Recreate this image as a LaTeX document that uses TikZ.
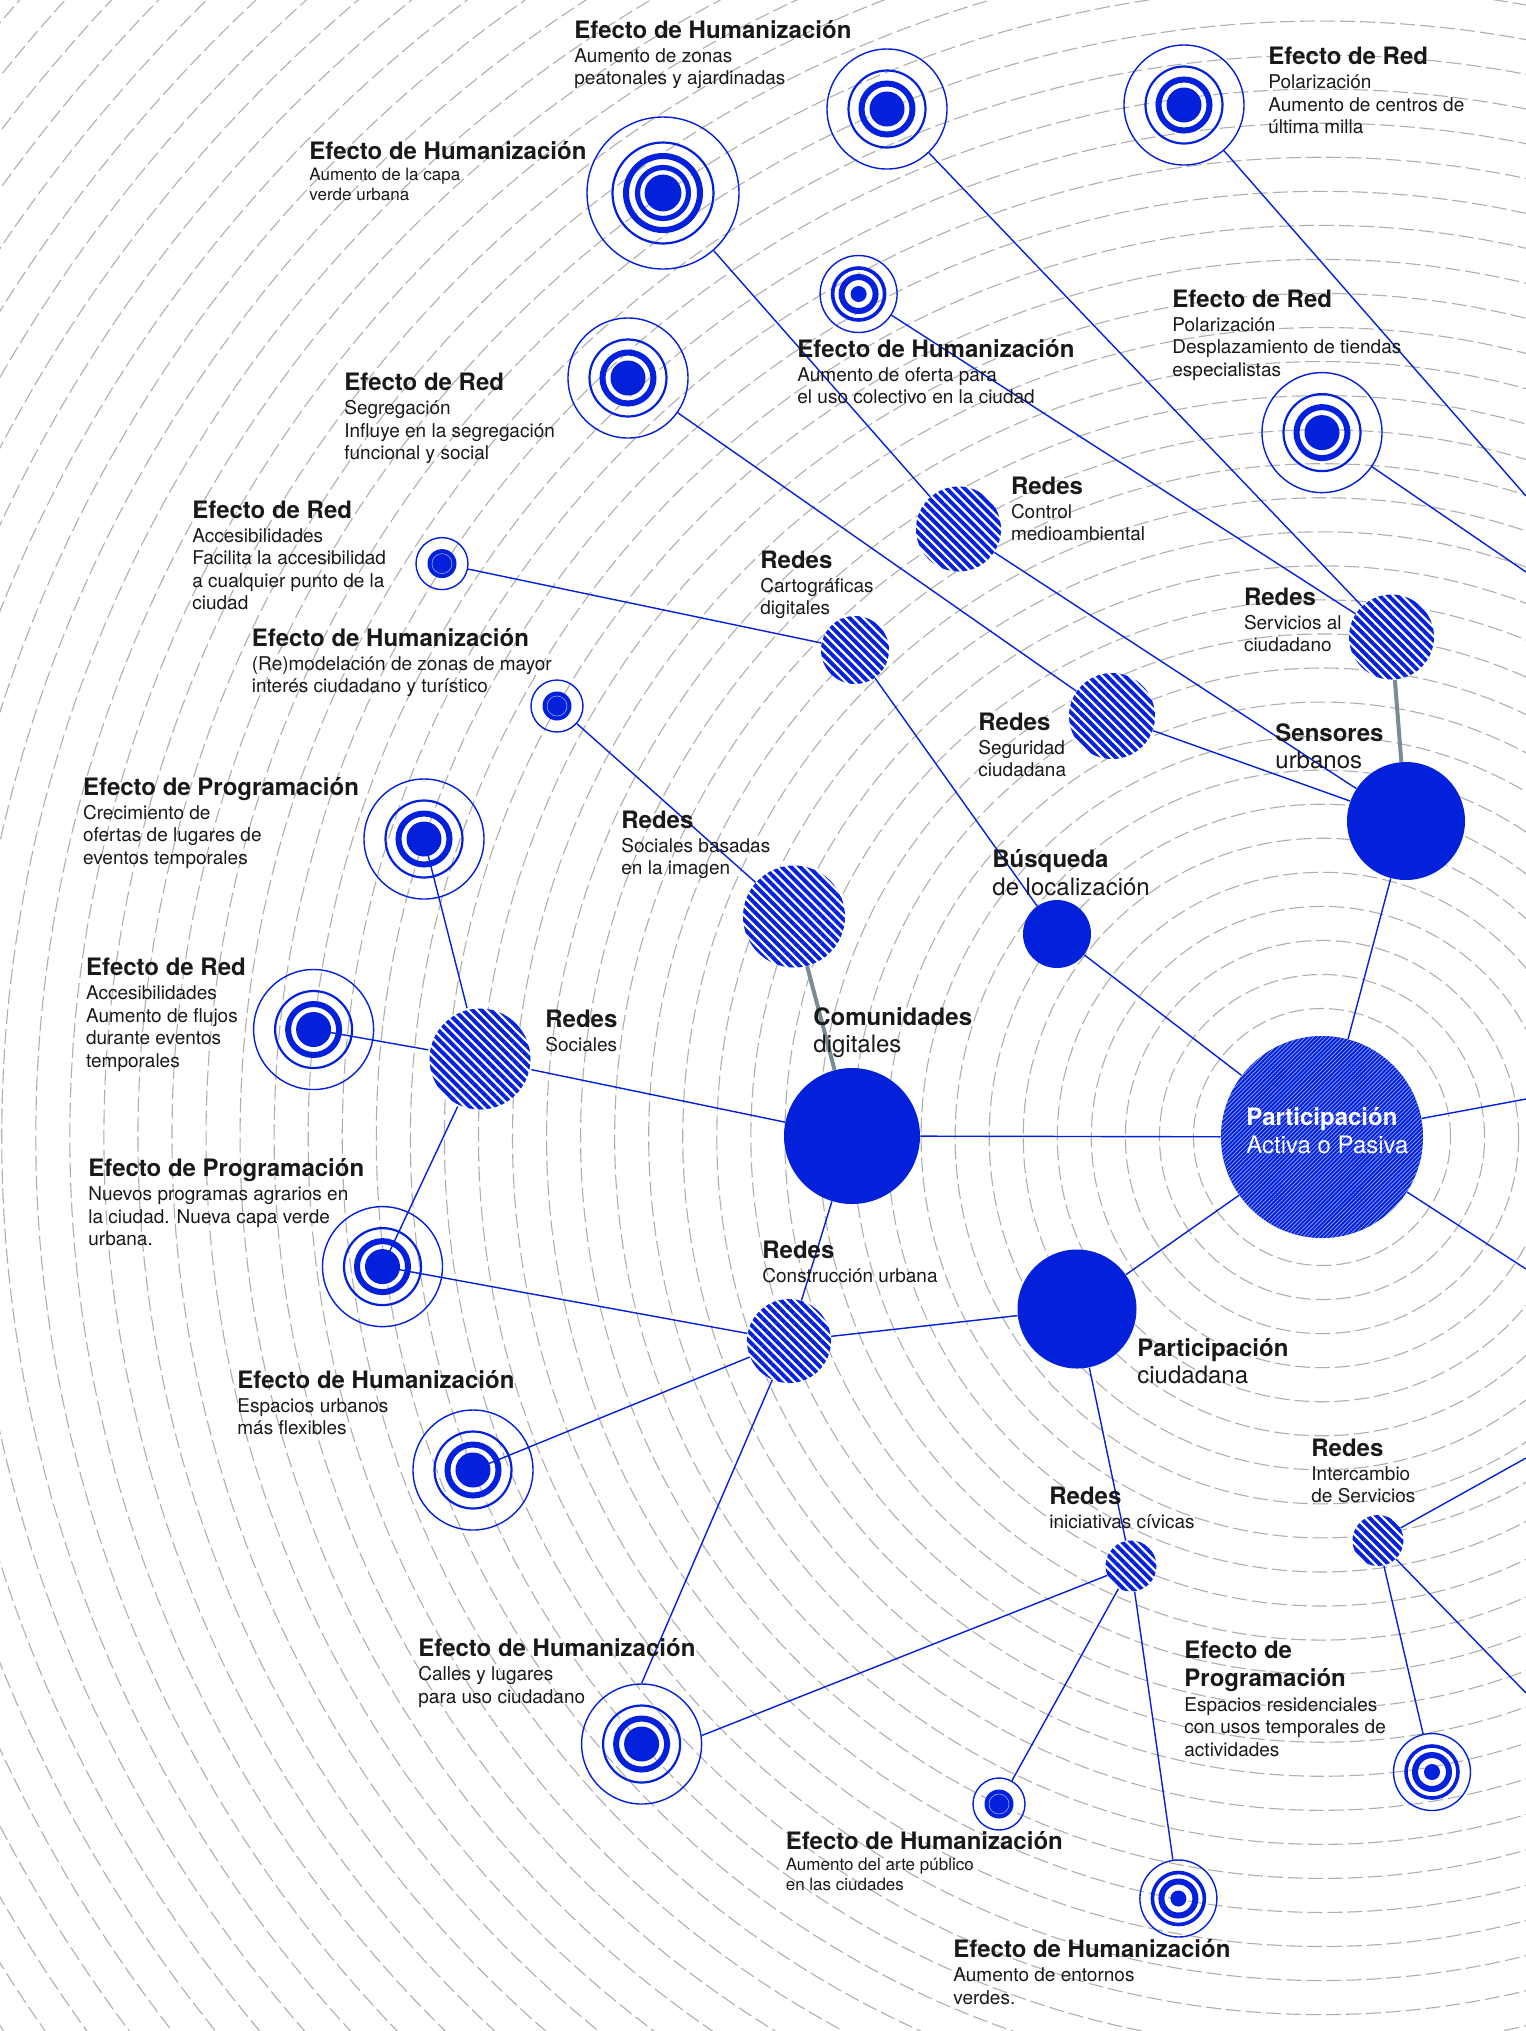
\documentclass[tikz,border=0pt]{standalone}
\usepackage{fontspec}
\setmainfont{TeX Gyre Heros}
\usepackage{tikz}
\usetikzlibrary{patterns.meta}
\usepackage{xcolor}

\definecolor{nblue}{RGB}{3,32,218}
\definecolor{lightb}{RGB}{150,170,245}
\definecolor{ringgray}{RGB}{175,175,175}
\definecolor{gconn}{RGB}{120,140,148}
\definecolor{txt}{RGB}{25,25,25}

\pgfdeclarelayer{bg}
\pgfsetlayers{bg,main}

% labels are placed by the baseline of their last line
\tikzset{
  tgtring/.style={circle, draw=nblue, line width=0.7pt, inner sep=0pt},
  lbl/.style={anchor=base west, align=left, inner sep=0pt, text=txt, font=\fontsize{9.5}{11.25}\selectfont},
  lblsm/.style={lbl, font=\fontsize{8.5}{10}\selectfont},
  lblbig/.style={lbl, font=\fontsize{12}{13.75}\selectfont}
}

\newcommand{\hd}[1]{{\fontsize{12}{13.75}\selectfont\bfseries #1}}

% targets (outer ring = named node)
\newcommand{\tgtstd}[2]{%
  \node[tgtring, minimum size=60pt] (#1) at (#2) {};
  \draw[nblue, line width=1.1pt] (#1.center) circle[radius=19.25pt];
  \draw[nblue, line width=3pt] (#1.center) circle[radius=12.75pt];
  \fill[nblue] (#1.center) circle[radius=8.75pt];}
\newcommand{\tgtbig}[2]{%
  \node[tgtring, minimum size=76pt] (#1) at (#2) {};
  \draw[nblue, line width=1.1pt] (#1.center) circle[radius=25.25pt];
  \draw[nblue, line width=3pt] (#1.center) circle[radius=18.5pt];
  \draw[nblue, line width=2.6pt] (#1.center) circle[radius=12.75pt];
  \fill[nblue] (#1.center) circle[radius=9.2pt];}
\newcommand{\tgtmed}[2]{%
  \node[tgtring, minimum size=38.5pt] (#1) at (#2) {};
  \draw[nblue, line width=1.8pt] (#1.center) circle[radius=13pt];
  \draw[nblue, line width=3pt] (#1.center) circle[radius=8.5pt];
  \fill[nblue] (#1.center) circle[radius=4pt];}
\newcommand{\tgtsml}[2]{%
  \node[tgtring, minimum size=26pt] (#1) at (#2) {};
  \fill[nblue] (#1.center) circle[radius=7.25pt];
  \draw[white, opacity=.6, line width=0.3pt] (#1.center) circle[radius=5pt];}

\begin{document}
\begin{tikzpicture}[x=0.5pt, y=-0.5pt,
  orbit/.style={draw=ringgray, line width=0.55pt, dash pattern=on 7.5pt off 2.5pt},
  link/.style={draw=nblue, line width=0.7pt},
  glink/.style={draw=gconn, line width=2pt},
  fullnode/.style={circle, inner sep=0pt, fill=nblue},
  hatchnode/.style={circle, inner sep=0pt, preaction={fill=white},
    pattern={Lines[angle=-45,distance=3.2pt,line width=1.95pt]}, pattern color=nblue},
  cennode/.style={circle, inner sep=0pt, fill=nblue,
    postaction={pattern={Lines[angle=45,distance=1.45pt,line width=0.35pt]}, pattern color=lightb}}]
\useasboundingbox (0,0) rectangle (1526,2031);

% Dashed orbits around the centre
\begin{pgfonlayer}{bg}
\begin{scope}
\clip (0,0) rectangle (1526,2031);
\fill[white] (0,0) rectangle (1526,2031);
\foreach \k in {0,...,48}
  \draw[orbit] (1322,1137) circle[radius={64.25pt+17.025pt*\k}];
\end{scope}
\end{pgfonlayer}

% Centre and solid nodes
\node[cennode, minimum size=101pt] (cen) at (1322,1137) {};
\node[fullnode, minimum size=68pt] (com) at (852,1136) {};
\node[fullnode, minimum size=59pt] (sen) at (1406,821) {};
\node[fullnode, minimum size=34pt] (bus) at (1057,934) {};
\node[fullnode, minimum size=59.5pt] (pci) at (1077,1309) {};

% Redes (hatched)
\node[hatchnode, minimum size=50.5pt] (r5) at (480,1059) {};
\node[hatchnode, minimum size=51pt] (r6) at (794,916.5) {};
\node[hatchnode, minimum size=34pt] (r7) at (855,650) {};
\node[hatchnode, minimum size=42.5pt] (r8) at (958.5,529) {};
\node[hatchnode, minimum size=43pt] (r9) at (1112,716) {};
\node[hatchnode, minimum size=42.5pt] (r10) at (1391.5,637) {};
\node[hatchnode, minimum size=42pt] (r11) at (789,1341) {};
\node[hatchnode, minimum size=25.5pt] (r12) at (1131,1566) {};
\node[hatchnode, minimum size=25.5pt] (r13) at (1378,1540.5) {};

% Efectos (targets)
\tgtstd{t1}{887,109}
\tgtstd{t2}{1184,105}
\tgtbig{t3}{663,193}
\tgtmed{t4}{858.6,294}
\tgtstd{t5}{1322,432.6}
\tgtstd{t6}{628,378}
\tgtsml{t7}{442,563.6}
\tgtsml{t8}{557,706}
\tgtstd{t9}{424,839}
\tgtstd{t10}{313.6,1029.5}
\tgtstd{t11}{382.5,1266.6}
\tgtstd{t12}{473,1470}
\tgtstd{t13}{641.6,1744}
\tgtsml{t14}{999,1804}
\tgtmed{t15}{1178.4,1898.5}
\tgtmed{t16}{1432,1772}

% Loose ends at the right border
\coordinate (e1) at (1526,496);
\coordinate (e2) at (1526,572);
\coordinate (e3) at (1526,1099);
\coordinate (e4) at (1526,1269);
\coordinate (e5) at (1526,1458);
\coordinate (e6) at (1526,1693);

% Connectors
\begin{pgfonlayer}{bg}
\draw[link] (t1) -- (r10);
\draw[link] (t2) -- (e1);
\draw[link] (t3) -- (r8);
\draw[link] (t4) -- (r10);
\draw[link] (t5) -- (e2);
\draw[link] (r8) -- (sen);
\draw[link] (t6) -- (r9);
\draw[link] (r9) -- (sen);
\draw[link] (t7) -- (r7);
\draw[link] (r7) -- (bus);
\draw[link] (t8) -- (r6);
\draw[glink] (r6) -- (com);
\draw[glink] (r10) -- (sen);
\draw[link] (bus) -- (cen);
\draw[link] (sen) -- (cen);
\draw[link] (t9.center) -- (r5);
\draw[link] (t10.center) -- (r5);
\draw[link] (r5) -- (com);
\draw[link] (r5) -- (t11.center);
\draw[link] (t11.center) -- (r11);
\draw[link] (t12.center) -- (r11);
\draw[link] (t13.north) -- (r11);
\draw[link] (r11) -- (com);
\draw[link] (r11) -- (pci);
\draw[link] (com) -- (cen);
\draw[link] (pci) -- (cen);
\draw[link] (pci) -- (r12);
\draw[link] (r12) -- (t13.8);
\draw[link] (r12) -- (t14);
\draw[link] (r12) -- (t15);
\draw[link] (r13) -- (e5);
\draw[link] (r13) -- (t16);
\draw[link] (r13) -- (e6);
\draw[link] (cen) -- (e3);
\draw[link] (cen) -- (e4);
\end{pgfonlayer}

% Labels of the nodes
\node[lblbig, text=white] (lcen) at (1246,1153) {\hd{Participación}\\Activa o Pasiva};
\node[lblbig] (lcom) at (813,1052.5) {\hd{Comunidades}\\digitales};
\node[lblbig] (lsen) at (1275,768.5) {\hd{Sensores}\\urbanos};
\node[lblbig] (lbus) at (992,895) {\hd{Búsqueda}\\de localización};
\node[lblbig] (lpci) at (1137,1383.5) {\hd{Participación}\\ciudadana};
\node[lbl] (lr5) at (545,1051) {\hd{Redes}\\[0.75pt]Sociales};
\node[lbl] (lr6) at (621,874.5) {\hd{Redes}\\[0.75pt]Sociales basadas\\en la imagen};
\node[lbl] (lr7) at (760,614.5) {\hd{Redes}\\[0.75pt]Cartográficas\\digitales};
\node[lbl] (lr8) at (1010.6,540.5) {\hd{Redes}\\[0.75pt]Control\\medioambiental};
\node[lbl] (lr9) at (978,776.5) {\hd{Redes}\\[0.75pt]Seguridad\\ciudadana};
\node[lbl] (lr10) at (1243.6,651.5) {\hd{Redes}\\[0.75pt]Servicios al\\ciudadano};
\node[lbl] (lr11) at (762,1282) {\hd{Redes}\\[0.75pt]Construcción urbana};
\node[lbl] (lr12) at (1049,1528.6) {\hd{Redes}\\[0.75pt]iniciativas cívicas};
\node[lbl] (lr13) at (1311,1502.5) {\hd{Redes}\\[0.75pt]Intercambio\\de Servicios};

% Labels of the effects
\node[lbl] (lt1) at (574,84.5) {\hd{Efecto de Humanización}\\[0.75pt]Aumento de zonas\\peatonales y ajardinadas};
\node[lbl] (lt2) at (1268,133.7) {\hd{Efecto de Red}\\[0.75pt]Polarización\\Aumento de centros de\\última milla};
\node[lblsm] (lt3) at (309,200.8) {\hd{Efecto de Humanización}\\[0.7pt]Aumento de la capa\\verde urbana};
\node[lbl] (lt4) at (797,403.5) {\hd{Efecto de Humanización}\\[0.75pt]Aumento de oferta para\\el uso colectivo en la ciudad};
\node[lbl] (lt5) at (1172,376) {\hd{Efecto de Red}\\[0.75pt]Polarización\\Desplazamiento de tiendas\\especialistas};
\node[lbl] (lt6) at (344,459.6) {\hd{Efecto de Red}\\[0.75pt]Segregación\\Influye en la segregación\\funcional y social};
\node[lbl] (lt7) at (192,609.5) {\hd{Efecto de Red}\\[0.75pt]Accesibilidades\\Facilita la accesibilidad\\a cualquier punto de la\\ciudad};
\node[lbl] (lt8) at (251.5,692.5) {\hd{Efecto de Humanización}\\[0.75pt](Re)modelación de zonas de mayor\\interés ciudadano y turístico};
\node[lbl] (lt9) at (82.7,864) {\hd{Efecto de Programación}\\[0.75pt]Crecimiento de\\ofertas de lugares de\\eventos temporales};
\node[lbl] (lt10) at (85.7,1067) {\hd{Efecto de Red}\\[0.75pt]Accesibilidades\\Aumento de flujos\\durante eventos\\temporales};
\node[lbl] (lt11) at (88,1245.6) {\hd{Efecto de Programación}\\[0.75pt]Nuevos programas agrarios en\\la ciudad. Nueva capa verde\\urbana.};
\node[lbl] (lt12) at (237,1434.5) {\hd{Efecto de Humanización}\\[0.75pt]Espacios urbanos\\más flexibles};
\node[lbl] (lt13) at (418,1703) {\hd{Efecto de Humanización}\\[0.75pt]Calles y lugares\\para uso ciudadano};
\node[lblsm] (lt14) at (785.4,1890.4) {\hd{Efecto de Humanización}\\[0.7pt]Aumento del arte público\\en las ciudades};
\node[lbl] (lt15) at (953,2004.3) {\hd{Efecto de Humanización}\\[0.75pt]Aumento de entornos\\verdes.};
\node[lbl] (lt16) at (1184,1756) {\hd{Efecto de}\\[2.75pt]\hd{Programación}\\[1.25pt]Espacios residenciales\\con usos temporales de\\actividades};
\end{tikzpicture}
\end{document}
